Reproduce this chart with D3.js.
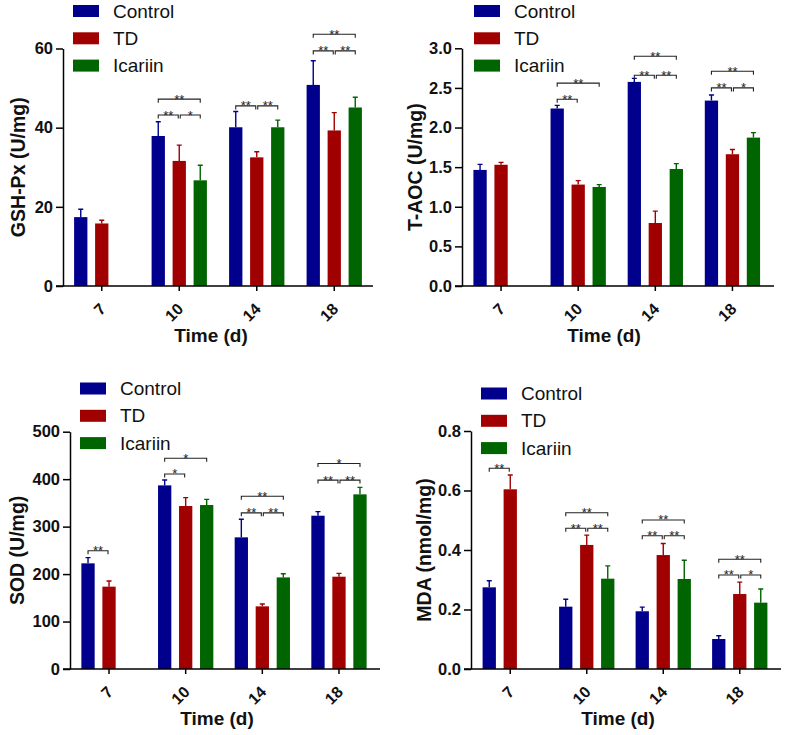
<!DOCTYPE html>
<html lang="en">
  <head>
    <meta charset="UTF-8" />
    <title>Oxidative stress markers</title>
    <style>
      html,
      body {
        margin: 0;
        background: #fff;
      }
      svg {
        font-family: "Liberation Sans", Arial, sans-serif;
      }
    </style>
  </head>
  <body>
    <div id="chart"></div>

    <script src="https://cdnjs.cloudflare.com/ajax/libs/d3/7.8.5/d3.min.js"></script>
    <script>
      const categories = ["7", "10", "14", "18"];
      const seriesNames = ["Control", "TD", "Icariin"];
      const seriesColors = ["#00008c", "#a00000", "#006400"];

      // GSH-Px (U/mg)
      const gshControl = [17.4, 37.9, 40.1, 50.8];
      const gshControlErr = [2.0, 3.6, 4.0, 6.1];
      const gshTD = [15.8, 31.6, 32.5, 39.3];
      const gshTDErr = [0.8, 4.0, 1.4, 4.5];
      const gshIcariin = [null, 26.7, 40.1, 45.1];
      const gshIcariinErr = [null, 3.8, 1.8, 2.6];
      const gshTicks = [0, 20, 40, 60];
      // [time index, series a, series b, bracket level, label]
      const gshSig = [
        [1, 0, 1, 43.2, "**"], [1, 1, 2, 43.2, "*"], [1, 0, 2, 47.2, "**"],
        [2, 0, 1, 45.5, "**"], [2, 1, 2, 45.5, "**"],
        [3, 0, 1, 59.4, "**"], [3, 1, 2, 59.4, "**"], [3, 0, 2, 63.6, "**"],
      ];

      // T-AOC (U/mg)
      const taocControl = [1.465, 2.24, 2.576, 2.34];
      const taocControlErr = [0.07, 0.04, 0.045, 0.07];
      const taocTD = [1.53, 1.28, 0.795, 1.663];
      const taocTDErr = [0.03, 0.05, 0.15, 0.06];
      const taocIcariin = [null, 1.25, 1.477, 1.873];
      const taocIcariinErr = [null, 0.03, 0.067, 0.063];
      const taocTicks = [0, 0.5, 1.0, 1.5, 2.0, 2.5, 3.0];
      const taocSig = [
        [1, 0, 1, 2.357, "**"], [1, 0, 2, 2.56, "**"],
        [2, 0, 1, 2.66, "**"], [2, 1, 2, 2.66, "**"], [2, 0, 2, 2.9, "**"],
        [3, 0, 1, 2.5, "**"], [3, 1, 2, 2.5, "*"], [3, 0, 2, 2.71, "**"],
      ];

      // SOD (U/mg)
      const sodControl = [222.6, 386.9, 277.4, 323];
      const sodControlErr = [12, 11.3, 38, 8.5];
      const sodTD = [173.5, 343.4, 132, 194.5];
      const sodTDErr = [12, 17.6, 5, 7];
      const sodIcariin = [null, 345.5, 193, 368];
      const sodIcariinErr = [null, 12, 7.8, 14.7];
      const sodTicks = [0, 100, 200, 300, 400, 500];
      const sodSig = [
        [0, 0, 1, 249, "**"],
        [1, 0, 1, 411, "*"], [1, 0, 2, 444, "*"],
        [2, 0, 1, 329, "**"], [2, 1, 2, 329, "**"], [2, 0, 2, 364, "**"],
        [3, 0, 1, 398, "**"], [3, 1, 2, 398, "**"], [3, 0, 2, 433, "*"],
      ];

      // MDA (nmol/mg)
      const mdaControl = [0.2745, 0.2095, 0.194, 0.1008];
      const mdaControlErr = [0.022, 0.025, 0.014, 0.011];
      const mdaTD = [0.604, 0.417, 0.383, 0.252];
      const mdaTDErr = [0.048, 0.033, 0.039, 0.04];
      const mdaIcariin = [null, 0.3036, 0.3025, 0.223];
      const mdaIcariinErr = [null, 0.043, 0.063, 0.046];
      const mdaTicks = [0, 0.2, 0.4, 0.6, 0.8];
      const mdaSig = [
        [0, 0, 1, 0.675, "**"],
        [1, 0, 1, 0.473, "**"], [1, 1, 2, 0.473, "**"], [1, 0, 2, 0.525, "**"],
        [2, 0, 1, 0.448, "**"], [2, 1, 2, 0.448, "**"], [2, 0, 2, 0.501, "**"],
        [3, 0, 1, 0.316, "**"], [3, 1, 2, 0.316, "*"], [3, 0, 2, 0.369, "**"],
      ];

      const panels = [
        {
          title: "GSH-Px (U/mg)",
          values: [gshControl, gshTD, gshIcariin],
          errors: [gshControlErr, gshTDErr, gshIcariinErr],
          ticks: gshTicks, fmt: d3.format("d"), sig: gshSig,
          axisX: 63, top: 48.5, bottom: 286, band: [63, 373], axisEnd: 373,
          legendX: 73, legendY: 11, yTitleX: 18, xTitleX: 211,
        },
        {
          title: "T-AOC (U/mg)",
          values: [taocControl, taocTD, taocIcariin],
          errors: [taocControlErr, taocTDErr, taocIcariinErr],
          ticks: taocTicks, fmt: d3.format(".1f"), sig: taocSig,
          axisX: 462, top: 48.3, bottom: 286, band: [462.5, 771], axisEnd: 774,
          legendX: 474, legendY: 11, yTitleX: 415, xTitleX: 604,
        },
        {
          title: "SOD (U/mg)",
          values: [sodControl, sodTD, sodIcariin],
          errors: [sodControlErr, sodTDErr, sodIcariinErr],
          ticks: sodTicks, fmt: d3.format("d"), sig: sodSig,
          axisX: 70, top: 431.7, bottom: 669, band: [70.7, 377.3], axisEnd: 380,
          legendX: 80, legendY: 388.5, yTitleX: 17, xTitleX: 217,
        },
        {
          title: "MDA (nmol/mg)",
          values: [mdaControl, mdaTD, mdaIcariin],
          errors: [mdaControlErr, mdaTDErr, mdaIcariinErr],
          ticks: mdaTicks, fmt: d3.format(".1f"), sig: mdaSig,
          axisX: 471, top: 431, bottom: 669, band: [472, 778], axisEnd: 781,
          legendX: 481, legendY: 393.5, yTitleX: 424, xTitleX: 618,
        },
      ];

      const svg = d3
        .select("#chart")
        .append("svg")
        .attr("width", 786)
        .attr("height", 735);

      panels.forEach((p) => drawPanel(p));

      function drawPanel(p) {
        const g = svg.append("g");
        const maxTick = p.ticks[p.ticks.length - 1];
        const tickLen = 7;

        const y = d3.scaleLinear().domain([0, maxTick]).range([p.bottom, p.top]);
        const x = d3.scaleBand().domain(categories).range(p.band);
        const inner = d3
          .scaleBand()
          .domain([0, 1, 2])
          .range([-31.5, 31.5])
          .paddingInner(0.367)
          .paddingOuter(0.1835);
        const center = (i, s) =>
          x(categories[i]) + x.bandwidth() / 2 + inner(s) + inner.bandwidth() / 2;

        // bars + error bars
        p.values.forEach((vals, s) => {
          const rows = vals
            .map((v, i) => ({ i, v, e: p.errors[s][i] }))
            .filter((d) => d.v != null);

          g.selectAll(null)
            .data(rows)
            .join("rect")
            .attr("x", (d) => center(d.i, s) - inner.bandwidth() / 2)
            .attr("y", (d) => y(d.v))
            .attr("width", inner.bandwidth())
            .attr("height", (d) => y(0) - y(d.v))
            .attr("fill", seriesColors[s]);

          g.selectAll(null)
            .data(rows)
            .join("path")
            .attr("fill", "none")
            .attr("stroke", seriesColors[s])
            .attr("stroke-width", 1.4)
            .attr("d", (d) => {
              const cx = center(d.i, s);
              const t = y(d.v + d.e);
              return `M${cx},${y(d.v)}V${t}M${cx - 2.5},${t}H${cx + 2.5}`;
            });
        });

        // y axis
        g.append("g")
          .attr("transform", `translate(${p.axisX},0)`)
          .call(
            d3
              .axisLeft(y)
              .tickValues(p.ticks)
              .tickFormat(p.fmt)
              .tickSize(tickLen)
              .tickSizeOuter(0)
              .tickPadding(3)
          )
          .call((a) => {
            a.selectAll("path, line").attr("stroke", "#000").attr("stroke-width", 1.5);
            a.selectAll("text")
              .attr("fill", "#111")
              .attr("font-size", 16.5)
              .attr("font-weight", "bold")
              .attr("font-family", "Liberation Sans, Arial, sans-serif");
          });

        // x axis
        const xa = g
          .append("g")
          .attr("transform", `translate(0,${p.bottom})`)
          .call(d3.axisBottom(x).tickSize(5).tickSizeOuter(0));
        xa.select(".domain").remove();
        xa.selectAll("line").attr("stroke", "#000").attr("stroke-width", 1.5);
        xa.selectAll("text")
          .attr("fill", "#111")
          .attr("font-size", 16)
          .attr("font-weight", "bold")
          .attr("font-family", "Liberation Sans, Arial, sans-serif")
          .attr("text-anchor", "end")
          .attr("dy", null)
          .attr("y", 0)
          .attr("transform", "translate(5,24) rotate(-45)");
        g.append("line")
          .attr("x1", p.axisX - tickLen)
          .attr("x2", p.axisEnd)
          .attr("y1", p.bottom)
          .attr("y2", p.bottom)
          .attr("stroke", "#000")
          .attr("stroke-width", 1.5);

        // significance brackets
        p.sig.forEach(([i, a, b, level, label]) => {
          const adjacent = b - a === 1;
          let x1 = center(i, a);
          let x2 = center(i, b);
          if (adjacent && b === 1) x2 -= 1;
          if (adjacent && a === 1) x1 += 1;
          const ly = y(level);
          g.append("path")
            .attr("fill", "none")
            .attr("stroke", "#222")
            .attr("stroke-width", 1.1)
            .attr("d", `M${x1},${ly + 3.5}V${ly}H${x2}V${ly + 3.5}`);
          g.append("text")
            .attr("x", (x1 + x2) / 2)
            .attr("y", ly + 4.5)
            .attr("text-anchor", "middle")
            .attr("font-size", 13)
            .attr("fill", "#222")
            .text(label);
        });

        // axis titles
        g.append("text")
          .attr("transform", `translate(${p.yTitleX},${(p.top + p.bottom) / 2}) rotate(-90)`)
          .attr("text-anchor", "middle")
          .attr("dominant-baseline", "central")
          .attr("font-size", 19.5)
          .attr("font-weight", "bold")
          .attr("fill", "#111")
          .text(p.title);

        g.append("text")
          .attr("x", p.xTitleX)
          .attr("y", p.bottom + 56)
          .attr("text-anchor", "middle")
          .attr("font-size", 19)
          .attr("font-weight", "bold")
          .attr("fill", "#111")
          .text("Time (d)");

        // legend
        const lg = g
          .selectAll(null)
          .data(seriesNames)
          .join("g")
          .attr("transform", (d, k) => `translate(${p.legendX},${p.legendY + k * 27.3})`);
        lg.append("rect")
          .attr("x", 0)
          .attr("y", -6)
          .attr("width", 26)
          .attr("height", 12)
          .attr("fill", (d, k) => seriesColors[k]);
        lg.append("text")
          .attr("x", 40)
          .attr("y", 0)
          .attr("dominant-baseline", "central")
          .attr("font-size", 19)
          .attr("fill", "#111")
          .text((d) => d);
      }
    </script>
  </body>
</html>
